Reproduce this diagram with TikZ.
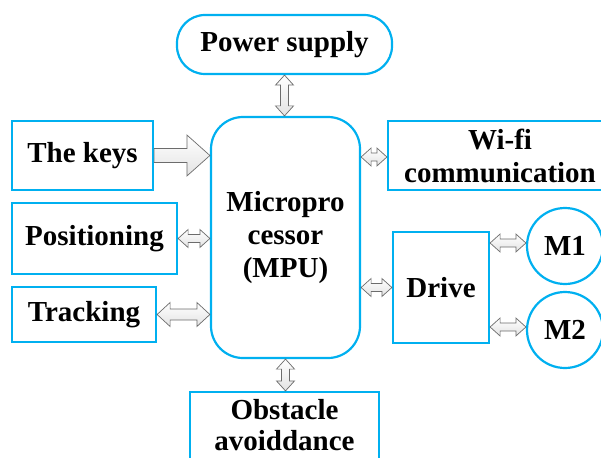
\documentclass[tikz,border=0pt]{standalone}
\usepackage{fontspec}
\setmainfont{Liberation Serif}
\usetikzlibrary{calc}

\definecolor{boxblue}{RGB}{0,176,240}

\tikzset{
  unit/.style={draw=boxblue, line width=2.2pt, fill=white, inner sep=0pt,
    font=\fontsize{29}{33}\selectfont\bfseries, align=center},
  rectbox/.style={unit, rectangle},
  roundbox/.style={unit, rectangle, rounded corners=#1},
  motor/.style={unit, circle, minimum size=76pt},
  plaintext/.style={inner sep=0pt, font=\fontsize{29}{31}\selectfont\bfseries, align=center},
  blockarrow/.style={draw=gray!85!black, line width=0.7pt, line join=miter,
    top color=white, bottom color=gray!22},
}

% horizontal double block arrow: #1 left end, #2 right end,
% #3 shaft half width, #4 head half width, #5 head length
\newcommand\hdblarrow[5]{%
  \path[blockarrow] (#1) -- ($(#1)+(#5,-#4)$) -- ($(#1)+(#5,-#3)$)
    -- ($(#2)+(-#5,-#3)$) -- ($(#2)+(-#5,-#4)$) -- (#2)
    -- ($(#2)+(-#5,#4)$) -- ($(#2)+(-#5,#3)$)
    -- ($(#1)+(#5,#3)$) -- ($(#1)+(#5,#4)$) -- cycle;}
% vertical double block arrow: #1 top end, #2 bottom end
\newcommand\vdblarrow[5]{%
  \path[blockarrow] (#1) -- ($(#1)+(#4,#5)$) -- ($(#1)+(#3,#5)$)
    -- ($(#2)+(#3,-#5)$) -- ($(#2)+(#4,-#5)$) -- (#2)
    -- ($(#2)+(-#4,-#5)$) -- ($(#2)+(-#3,-#5)$)
    -- ($(#1)+(-#3,#5)$) -- ($(#1)+(-#4,#5)$) -- cycle;}

\begin{document}
\begin{tikzpicture}[x=1pt, y=-1pt]
  \useasboundingbox (0,0) rectangle (601,457);
  \clip (0,0) rectangle (601,457);
  \fill[white] (0,0) rectangle (601,457);

  % units
  \node[roundbox=28pt, minimum width=215pt, minimum height=59pt] (power) at (284.5,44.5) {Power supply};
  \node[roundbox=32pt, minimum width=149pt, minimum height=241pt] (mpu) at (285.5,237.5) {Micropro\\cessor\\(MPU)};
  \node[rectbox, minimum width=141pt, minimum height=69pt] (keys) at (82.5,155.5) {The keys};
  \node[rectbox, minimum width=165pt, minimum height=71pt] (pos) at (94.5,238.5) {Positioning};
  \node[rectbox, minimum width=144pt, minimum height=55pt] (trk) at (84,314.5) {Tracking};
  \node[rectbox, minimum width=224pt, minimum height=69pt] (wifi) at (500,155.5) {Wi-fi\\communication};
  \node[rectbox, minimum width=96pt, minimum height=111pt] (drive) at (441,287.5) {Drive};
  \node[motor] (m1) at (565,246) {M1};
  \node[motor] (m2) at (565,330) {M2};
  \node[rectbox, minimum width=189pt, minimum height=90pt] (obst) at (284.5,437) {};
  \node[plaintext] (obsttext) at (284.5,425) {Obstacle\\avoiddance};

  % connector end points
  \coordinate (kA) at (keys.east);
  \coordinate (kB) at (mpu.west |- keys.east);
  \coordinate (posA) at (pos.east);
  \coordinate (posB) at (mpu.west |- pos.east);
  \coordinate (trkA) at (trk.east);
  \coordinate (trkB) at (mpu.west |- trk.east);
  \coordinate (pwA) at (power.south);
  \coordinate (pwB) at (power.south |- mpu.north);
  \coordinate (wfA) at ($(mpu.east |- wifi.west)+(0,1.5)$);
  \coordinate (wfB) at ($(wifi.west)+(0,1.5)$);
  \coordinate (drA) at (mpu.east |- drive.west);
  \coordinate (drB) at (drive.west);
  \coordinate (m1A) at ($(drive.east |- m1.west)+(0,-3)$);
  \coordinate (m1B) at ($(m1.west)+(0,-3)$);
  \coordinate (m2A) at ($(drive.east |- m2.west)+(0,-3)$);
  \coordinate (m2B) at ($(m2.west)+(0,-3)$);
  \coordinate (obA) at (mpu.south);
  \coordinate (obB) at (mpu.south |- obst.north);

  % one-way input from the keys
  \path[blockarrow] ($(kA)+(0,-7)$) -- ($(kB)+(-23,-7)$) -- ($(kB)+(-23,-20.5)$)
    -- (kB) -- ($(kB)+(-23,20.5)$) -- ($(kB)+(-23,7)$) -- ($(kA)+(0,7)$) -- cycle;

  % two-way links
  \hdblarrow{posA}{posB}{4}{9}{10}
  \hdblarrow{trkA}{trkB}{5.5}{12}{13}
  \hdblarrow{wfA}{wfB}{4}{9}{10}
  \hdblarrow{drA}{drB}{4}{9}{10}
  \hdblarrow{m1A}{m1B}{4}{9}{10}
  \hdblarrow{m2A}{m2B}{4}{9}{10}
  \vdblarrow{pwA}{pwB}{4}{9}{10}
  \vdblarrow{obA}{obB}{4}{9}{10}
\end{tikzpicture}
\end{document}
